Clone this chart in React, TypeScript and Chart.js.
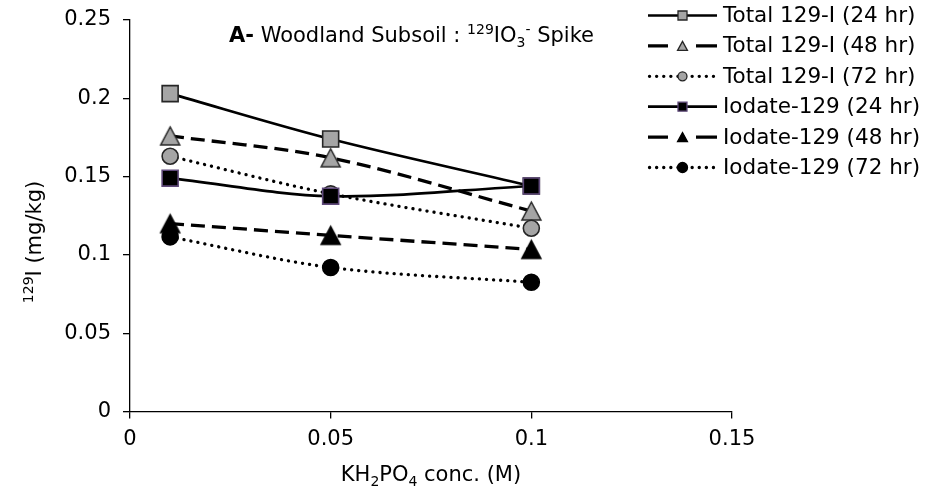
import React, { useEffect, useRef } from "react";
import { Chart, registerables } from "chart.js";

Chart.register(...registerables);

// ---- data ----
const concentrations = [0.01, 0.05, 0.1];
const total24 = [0.203, 0.174, 0.144];
const total48 = [0.176, 0.162, 0.128];
const total72 = [0.163, 0.139, 0.117];
const iodate24 = [0.149, 0.1375, 0.144];
const iodate48 = [0.12, 0.1125, 0.1035];
const iodate72 = [0.1115, 0.092, 0.0825];

const seriesLabels = [
  "Total 129-I (24 hr)",
  "Total 129-I (48 hr)",
  "Total 129-I (72 hr)",
  "Iodate-129 (24 hr)",
  "Iodate-129 (48 hr)",
  "Iodate-129 (72 hr)",
];

const xTickValues = [0, 0.05, 0.1, 0.15];
const xTickLabels = ["0", "0.05", "0.1", "0.15"];
const yTickValues = [0, 0.05, 0.1, 0.15, 0.2, 0.25];
const yTickLabels = ["0", "0.05", "0.1", "0.15", "0.2", "0.25"];

const FONT = "'DejaVu Sans', Verdana, sans-serif";
const GREY = "#A5A5A5";
const PURPLE = "#5F497A";
const SOLID: number[] = [];
const DASH = [14, 7];
const DOT = [0.1, 7];

type Run = { text: string; size: number; bold?: boolean; dy?: number };

function runsWidth(ctx: CanvasRenderingContext2D, runs: Run[]) {
  let w = 0;
  for (const r of runs) {
    ctx.font = `${r.bold ? "bold " : ""}${r.size}px ${FONT}`;
    w += ctx.measureText(r.text).width;
  }
  return w;
}

function drawRuns(ctx: CanvasRenderingContext2D, runs: Run[], x: number, y: number) {
  let cx = x;
  ctx.textBaseline = "alphabetic";
  ctx.textAlign = "left";
  for (const r of runs) {
    ctx.font = `${r.bold ? "bold " : ""}${r.size}px ${FONT}`;
    ctx.fillText(r.text, cx, y + (r.dy || 0));
    cx += ctx.measureText(r.text).width;
  }
}

function trianglePath(ctx: CanvasRenderingContext2D, cx: number, cy: number, w: number, h: number) {
  ctx.moveTo(cx, cy - h / 2);
  ctx.lineTo(cx + w / 2, cy + h / 2);
  ctx.lineTo(cx - w / 2, cy + h / 2);
  ctx.closePath();
}

function makeTriangle(fill: string, stroke: string, w: number, h: number, lw: number) {
  const c = document.createElement("canvas");
  const pad = Math.ceil(lw) + 1;
  c.width = Math.ceil(w + pad * 2);
  c.height = Math.ceil(h + pad * 2);
  const ctx = c.getContext("2d")!;
  ctx.beginPath();
  trianglePath(ctx, c.width / 2, c.height / 2, w, h);
  ctx.fillStyle = fill;
  ctx.fill();
  ctx.strokeStyle = stroke;
  ctx.lineWidth = lw;
  ctx.lineJoin = "miter";
  ctx.stroke();
  return c;
}

function drawMarker(
  ctx: CanvasRenderingContext2D,
  kind: string,
  x: number,
  y: number,
  s: number,
  fill: string,
  stroke: string,
  lw: number
) {
  ctx.save();
  ctx.setLineDash([]);
  ctx.fillStyle = fill;
  ctx.strokeStyle = stroke;
  ctx.lineWidth = lw;
  ctx.beginPath();
  if (kind === "rect") {
    ctx.rect(x - s / 2, y - s / 2, s, s);
  } else if (kind === "triangle") {
    trianglePath(ctx, x, y, s * 1.1, s);
  } else {
    ctx.arc(x, y, s / 2, 0, Math.PI * 2);
  }
  ctx.fill();
  ctx.stroke();
  ctx.restore();
}

const textPlugin = {
  id: "customText",
  afterDraw(chart: any) {
    const ctx: CanvasRenderingContext2D = chart.ctx;
    const area = chart.chartArea;
    ctx.save();
    ctx.fillStyle = "#000";

    // title
    const titleRuns: Run[] = [
      { text: "A-", size: 21, bold: true },
      { text: " Woodland Subsoil : ", size: 21 },
      { text: "129", size: 14, dy: -8 },
      { text: "IO", size: 21 },
      { text: "3", size: 14, dy: 5 },
      { text: "-", size: 14, dy: -8 },
      { text: " Spike", size: 21 },
    ];
    drawRuns(ctx, titleRuns, 229, 42);

    // x title
    const xRuns: Run[] = [
      { text: "KH", size: 21 },
      { text: "2", size: 14, dy: 5 },
      { text: "PO", size: 21 },
      { text: "4", size: 14, dy: 5 },
      { text: " conc. (M)", size: 21 },
    ];
    const xw = runsWidth(ctx, xRuns);
    drawRuns(ctx, xRuns, (area.left + area.right) / 2 - xw / 2, 481);

    // y title
    const yRuns: Run[] = [
      { text: "129", size: 14, dy: -8 },
      { text: "I (mg/kg)", size: 21 },
    ];
    const yw = runsWidth(ctx, yRuns);
    ctx.save();
    ctx.translate(34, 242);
    ctx.rotate(-Math.PI / 2);
    drawRuns(ctx, yRuns, -yw / 2, 7);
    ctx.restore();

    // legend
    const x0 = 648;
    const x1 = 717;
    const xm = (x0 + x1) / 2;
    const rowY0 = 15.5;
    const rowStep = 30.4;
    chart.data.datasets.forEach((ds: any, i: number) => {
      const y = rowY0 + i * rowStep;
      ctx.save();
      ctx.strokeStyle = "#000";
      ctx.lineWidth = ds.borderWidth;
      ctx.lineCap = ds.borderCapStyle || "butt";
      const dash = ds.borderDash || [];
      if (dash.length && dash[0] > 1) {
        ctx.setLineDash([]);
        ctx.beginPath();
        ctx.moveTo(x0, y);
        ctx.lineTo(x0 + 20, y);
        ctx.moveTo(x1 - 21, y);
        ctx.lineTo(x1, y);
        ctx.stroke();
      } else {
        ctx.setLineDash(dash);
        ctx.beginPath();
        ctx.moveTo(x0 + (dash.length ? 1.5 : 0), y);
        ctx.lineTo(x1, y);
        ctx.stroke();
      }
      ctx.restore();
      drawMarker(ctx, ds.legendKind, xm, y, ds.legendSize, ds.legendFill, ds.legendStroke, 1.3);
      ctx.fillStyle = "#000";
      ctx.font = `21.5px ${FONT}`;
      ctx.textBaseline = "middle";
      ctx.textAlign = "left";
      ctx.fillText(seriesLabels[i], 723, y + 1);
    });
    ctx.restore();
  },
};

function makeDataset(
  idx: number,
  values: number[],
  dash: number[],
  width: number,
  kind: string,
  radius: number,
  legendSize: number,
  fill: string,
  border: string,
  order: number
) {
  const pointStyle = kind === "triangle" ? makeTriangle(fill, border, 19, 18, 1.5) : kind;
  return {
    label: seriesLabels[idx],
    data: concentrations.map((x, i) => ({ x, y: values[i] })),
    borderColor: "#000",
    borderWidth: width,
    borderDash: dash,
    borderCapStyle: dash === DOT ? "round" : "butt",
    tension: 0.33,
    pointStyle,
    pointRadius: radius,
    pointHoverRadius: radius,
    pointBackgroundColor: fill,
    pointBorderColor: border,
    pointBorderWidth: 1.6,
    legendKind: kind,
    legendSize,
    legendFill: fill,
    legendStroke: border,
    fill: false,
    order,
  };
}

export default function App() {
  const ref = useRef<HTMLCanvasElement | null>(null);
  useEffect(() => {
    document.body.style.margin = "0";
    const canvas = ref.current;
    if (!canvas) return;
    const chart = new Chart(canvas, {
      type: "line",
      data: {
        datasets: [
          makeDataset(0, total24, SOLID, 2.7, "rect", 11.3, 9, GREY, "#262626", 6),
          makeDataset(1, total48, DASH, 3.3, "triangle", 10, 9, GREY, "#262626", 5),
          makeDataset(2, total72, DOT, 3.3, "circle", 8, 9, GREY, "#262626", 4),
          makeDataset(3, iodate24, SOLID, 2.7, "rect", 11.3, 9, "#000", PURPLE, 3),
          makeDataset(4, iodate48, DASH, 3.3, "triangle", 10, 9, "#000", "#000", 2),
          makeDataset(5, iodate72, DOT, 3.3, "circle", 8, 10, "#000", "#000", 1),
        ] as any,
      },
      options: {
        animation: false,
        responsive: false,
        maintainAspectRatio: false,
        layout: { padding: { top: 20, right: 943 - 732, bottom: 41.5, left: 0 } },
        plugins: {
          legend: { display: false },
          tooltip: { enabled: false },
          title: { display: false },
        },
        scales: {
          x: {
            type: "linear",
            min: 0,
            max: 0.15,
            afterBuildTicks: (s: any) => {
              s.ticks = xTickValues.map((v) => ({ value: v }));
            },
            afterFit: (s: any) => {
              s.height = 40;
              s.paddingLeft = 0;
              s.paddingRight = 0;
            },
            ticks: {
              color: "#000",
              font: { family: FONT, size: 21 },
              padding: 8,
              maxRotation: 0,
              callback: (v: any) => {
                const i = xTickValues.findIndex((t) => Math.abs(t - v) < 1e-9);
                return i >= 0 ? xTickLabels[i] : "";
              },
            },
            grid: {
              display: true,
              drawOnChartArea: false,
              drawTicks: true,
              tickLength: 7,
              color: "#000",
              lineWidth: 1.3,
            },
            border: { display: true, color: "#000", width: 1.3 },
          },
          y: {
            type: "linear",
            min: 0,
            max: 0.25,
            afterBuildTicks: (s: any) => {
              s.ticks = yTickValues.map((v) => ({ value: v }));
            },
            afterFit: (s: any) => {
              s.width = 130;
              s.paddingTop = 0;
              s.paddingBottom = 0;
            },
            ticks: {
              color: "#000",
              font: { family: FONT, size: 21 },
              padding: 12,
              callback: (v: any) => {
                const i = yTickValues.findIndex((t) => Math.abs(t - v) < 1e-9);
                return i >= 0 ? yTickLabels[i] : "";
              },
            },
            grid: {
              display: true,
              drawOnChartArea: false,
              drawTicks: true,
              tickLength: 7,
              color: "#000",
              lineWidth: 1.3,
            },
            border: { display: true, color: "#000", width: 1.3 },
          },
        },
      },
      plugins: [textPlugin],
    });
    return () => chart.destroy();
  }, []);
  return (
    <div style={{ width: 943, height: 493 }}>
      <canvas ref={ref} width={943} height={493} style={{ width: 943, height: 493, display: "block" }} />
    </div>
  );
}
